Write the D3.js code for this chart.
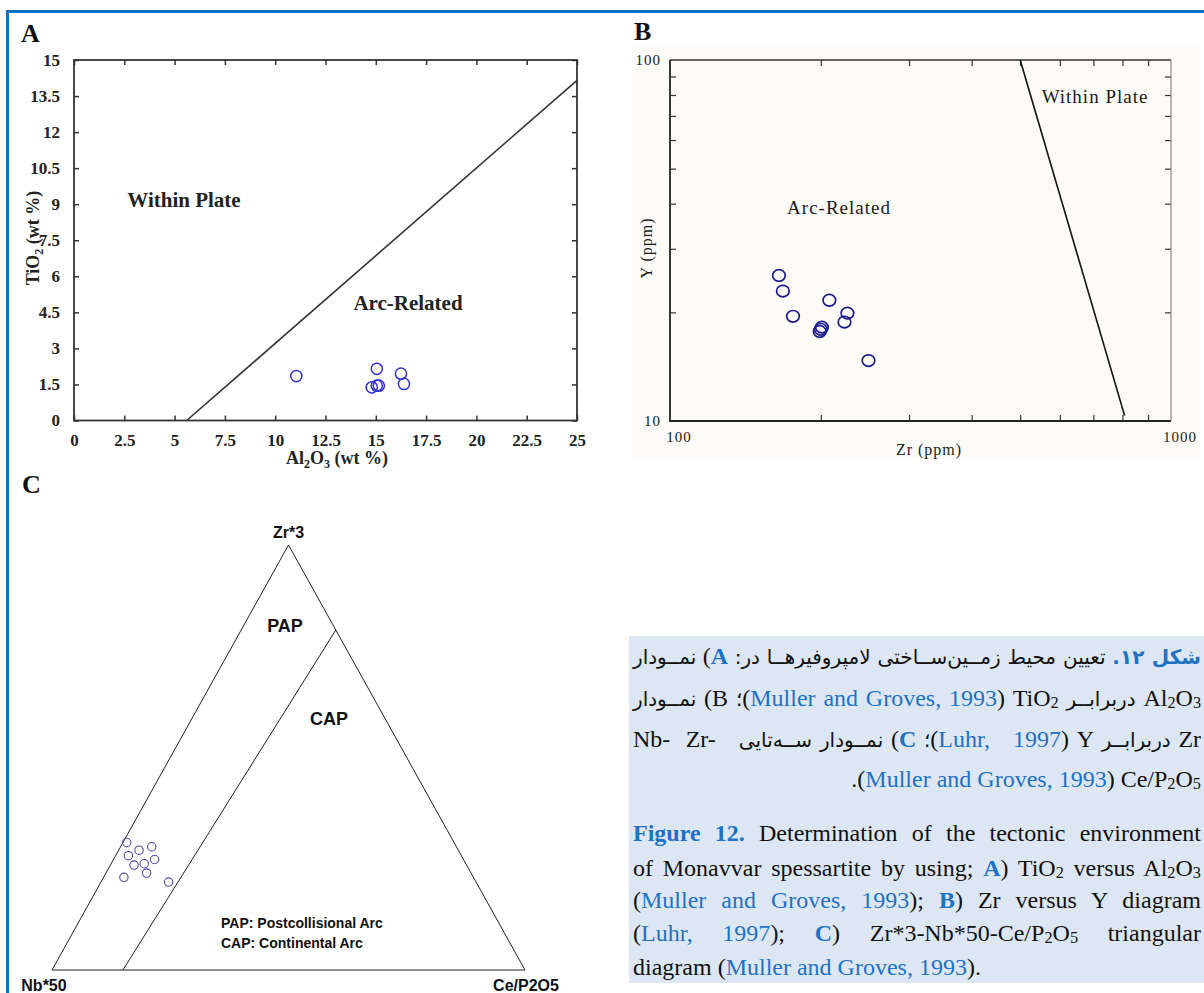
<!DOCTYPE html>
<html>
<head>
<meta charset="utf-8">
<script src="https://cdn.jsdelivr.net/npm/d3@7"></script>
<style>
body{margin:0;background:#fff;}
#wrap{position:relative;width:1204px;height:993px;overflow:hidden;}
svg{position:absolute;left:0;top:0;}
#cap{position:absolute;left:629px;top:636px;width:575px;height:347px;background:#dde7f3;}
.ln{position:absolute;left:4px;width:568px;white-space:nowrap;font-family:"Liberation Serif","DejaVu Sans",serif;font-size:24px;color:#111;text-align:justify;line-height:24px;}
.fa{font-family:"DejaVu Sans",sans-serif;font-size:20px;}
.bl{color:#1f72c2;}
.b{font-weight:bold;}
.sb{font-size:0.68em;vertical-align:-0.1em;}
</style>
</head>
<body>
<div id="wrap"></div>
<script>
// ---- panel A : TiO2 vs Al2O3 (wt %) ----
const aAl2O3 = [11.05, 15.05, 16.25, 16.4, 14.8, 15.05, 15.15];
const aTiO2  = [1.85, 2.15, 1.95, 1.52, 1.38, 1.45, 1.45];
const aLine  = [[5.6, 0], [25, 14.15]];
const aXTicks = [0, 2.5, 5, 7.5, 10, 12.5, 15, 17.5, 20, 22.5, 25];
const aYTicks = [0, 1.5, 3, 4.5, 6, 7.5, 9, 10.5, 12, 13.5, 15];

// ---- panel B : Zr vs Y (ppm), log-log ----
const bZr = [165, 168, 208, 176, 226, 223, 201, 199, 200, 249];
const bY  = [25.3, 22.9, 21.6, 19.5, 19.9, 18.8, 18.2, 17.7, 17.95, 14.7];
const bLine = [[500, 100], [808, 10.35]];
const bXMinor = [200, 300, 400, 500, 600, 700, 800, 900];
const bYMinor = [20, 30, 40, 50, 60, 70, 80, 90];

// ---- panel C : Zr*3 - Nb*50 - Ce/P2O5 ternary (%) ----
const cZr = [30, 28.2, 29, 26.9, 26, 24.7, 25, 22.8, 21.8, 20.7];
const cNb = [69.2, 67.5, 64.4, 70.4, 65.3, 70.3, 68, 68.6, 73.9, 65];
const cCe = [0.8, 4.3, 6.6, 2.7, 8.7, 5, 7, 8.6, 4.3, 14.3];
const cDivider = [[80, 0, 20], [0, 85, 15]];   // [Zr, Nb, Ce]

var wrap = d3.select("#wrap");
var svg = wrap.append("svg").attr("width", 1204).attr("height", 993);

// blue page frame
svg.append("line").attr("x1", 6).attr("x2", 1204).attr("y1", 11.5).attr("y2", 11.5)
  .attr("stroke", "#0b71c5").attr("stroke-width", 3);
svg.append("line").attr("x1", 7.5).attr("x2", 7.5).attr("y1", 10).attr("y2", 993)
  .attr("stroke", "#0b71c5").attr("stroke-width", 3);

// panel letters
[["A", 21, 42], ["B", 634, 40], ["C", 22, 493]].forEach(function(d) {
  svg.append("text").attr("x", d[1]).attr("y", d[2]).text(d[0])
    .attr("font-family", "Liberation Serif").attr("font-weight", "bold")
    .attr("font-size", 26).attr("fill", "#111");
});

// ================= PANEL A =================
var gA = svg.append("g");
var xA = d3.scaleLinear().domain([0, 25]).range([74, 577]);
var yA = d3.scaleLinear().domain([0, 15]).range([420.5, 60]);

function tickAxis(g, axis, tr) {
  var a = g.append("g").attr("transform", tr).call(axis);
  a.select(".domain").remove();
  a.selectAll(".tick line").attr("stroke", "#333").attr("stroke-width", 1.5);
  return a;
}
var serifA = function(sel) {
  sel.attr("font-family", "Liberation Serif").attr("font-weight", "bold")
    .attr("font-size", 17).attr("fill", "#222");
};
var numFmt = d => String(d);
var axA = tickAxis(gA, d3.axisBottom(xA).tickValues(aXTicks).tickFormat(numFmt).tickSize(-5).tickPadding(13).tickSizeOuter(0), "translate(0,420.5)");
axA.selectAll("text").call(serifA);
tickAxis(gA, d3.axisTop(xA).tickValues(aXTicks).tickSize(-5).tickFormat("").tickSizeOuter(0), "translate(0,60)");
var ayA = tickAxis(gA, d3.axisLeft(yA).tickValues(aYTicks).tickFormat(numFmt).tickSize(-5).tickPadding(14).tickSizeOuter(0), "translate(74,0)");
ayA.selectAll("text").call(serifA);
tickAxis(gA, d3.axisRight(yA).tickValues(aYTicks).tickSize(-5).tickFormat("").tickSizeOuter(0), "translate(577,0)");

gA.append("rect").attr("x", 74).attr("y", 60).attr("width", 503).attr("height", 360.5)
  .attr("fill", "none").attr("stroke", "#333").attr("stroke-width", 1.8);

gA.append("line")
  .attr("x1", xA(aLine[0][0])).attr("y1", yA(aLine[0][1]))
  .attr("x2", xA(aLine[1][0])).attr("y2", yA(aLine[1][1]))
  .attr("stroke", "#333").attr("stroke-width", 1.6);

gA.selectAll(".ptA").data(aAl2O3).enter().append("circle")
  .attr("cx", (d, i) => xA(d)).attr("cy", (d, i) => yA(aTiO2[i]))
  .attr("r", 5.6).attr("fill", "none").attr("stroke", "#3434d6").attr("stroke-width", 1.5);

gA.append("text").attr("x", 184).attr("y", 207).attr("text-anchor", "middle").text("Within Plate")
  .attr("font-family", "Liberation Serif").attr("font-weight", "bold").attr("font-size", 21).attr("fill", "#222");
gA.append("text").attr("x", 408).attr("y", 310).attr("text-anchor", "middle").text("Arc-Related")
  .attr("font-family", "Liberation Serif").attr("font-weight", "bold").attr("font-size", 21).attr("fill", "#222");

var xtA = gA.append("text").attr("x", 337).attr("y", 464).attr("text-anchor", "middle")
  .attr("font-family", "Liberation Serif").attr("font-weight", "bold").attr("font-size", 18).attr("fill", "#222");
xtA.append("tspan").text("Al");
xtA.append("tspan").text("2").attr("font-size", 12).attr("dy", 4);
xtA.append("tspan").text("O").attr("dy", -4);
xtA.append("tspan").text("3").attr("font-size", 12).attr("dy", 4);
xtA.append("tspan").text("  (wt %)").attr("dy", -4);

var ytA = gA.append("text").attr("transform", "translate(39,238) rotate(-90)").attr("text-anchor", "middle")
  .attr("font-family", "Liberation Serif").attr("font-weight", "bold").attr("font-size", 18).attr("fill", "#222");
ytA.append("tspan").text("TiO");
ytA.append("tspan").text("2").attr("font-size", 12).attr("dy", 4);
ytA.append("tspan").text(" (wt %)").attr("dy", -4);

// ================= PANEL B =================
var gB = svg.append("g");
gB.append("rect").attr("x", 632).attr("y", 47).attr("width", 568).attr("height", 412).attr("fill", "#fdfbf8");
var xB = d3.scaleLog().domain([100, 1000]).range([670, 1171]);
var yB = d3.scaleLog().domain([10, 100]).range([421, 60]);

tickAxis(gB, d3.axisBottom(xB).tickValues(bXMinor).tickSize(-6).tickFormat("").tickSizeOuter(0), "translate(0,421)");
tickAxis(gB, d3.axisTop(xB).tickValues(bXMinor).tickSize(-6).tickFormat("").tickSizeOuter(0), "translate(0,60)");
tickAxis(gB, d3.axisLeft(yB).tickValues(bYMinor).tickSize(-6).tickFormat("").tickSizeOuter(0), "translate(670,0)");
tickAxis(gB, d3.axisRight(yB).tickValues(bYMinor).tickSize(-6).tickFormat("").tickSizeOuter(0), "translate(1171,0)");
gB.selectAll(".tick line").attr("stroke-width", 1.2);

gB.append("path")
  .attr("d", `M${xB(100)},${yB(100)}H${xB(1000)}`).attr("stroke", "#333").attr("stroke-width", 1.5);
gB.append("path")
  .attr("d", `M${xB(100)},${yB(100)}V${yB(10)}H${xB(1000)}`).attr("fill", "none").attr("stroke", "#222").attr("stroke-width", 1.8);
gB.append("path")
  .attr("d", `M${xB(1000)},${yB(100)}V${yB(10)}`).attr("stroke", "#888").attr("stroke-width", 1.2);

var pixB = function(sel, size) {
  sel.attr("font-family", "Liberation Serif").attr("font-size", size).attr("fill", "#1a1a1a")
    .attr("letter-spacing", 1);
};
[100, 10].forEach(function(v) {
  gB.append("text").attr("x", 661).attr("y", yB(v) + 5).attr("text-anchor", "end").text(v).call(pixB, 15);
});
[100, 1000].forEach(function(v) {
  gB.append("text").attr("x", xB(v) + 9).attr("y", 442).attr("text-anchor", "middle").text(v).call(pixB, 15);
});
gB.append("text").attr("x", 929).attr("y", 455).attr("text-anchor", "middle").text("Zr (ppm)").call(pixB, 16);
gB.append("text").attr("transform", "translate(652,248) rotate(-90)").attr("text-anchor", "middle").text("Y (ppm)").call(pixB, 16);
gB.append("text").attr("x", 1095).attr("y", 103).attr("text-anchor", "middle").text("Within Plate").call(pixB, 19);
gB.append("text").attr("x", 839).attr("y", 214).attr("text-anchor", "middle").text("Arc-Related").call(pixB, 19);

gB.append("line")
  .attr("x1", xB(bLine[0][0])).attr("y1", yB(bLine[0][1]))
  .attr("x2", xB(bLine[1][0])).attr("y2", yB(bLine[1][1]))
  .attr("stroke", "#111").attr("stroke-width", 1.6);

gB.selectAll(".ptB").data(bZr).enter().append("ellipse")
  .attr("cx", d => xB(d)).attr("cy", (d, i) => yB(bY[i]))
  .attr("rx", 6.3).attr("ry", 5.8).attr("fill", "none").attr("stroke", "#1b1b8c").attr("stroke-width", 1.7);

// ================= PANEL C =================
var gC = svg.append("g");
var tx = d3.scaleLinear().domain([0, 1]).range([52, 525]);
var ty = d3.scaleLinear().domain([0, 1]).range([970, 545]);
function tern(zr, nb, ce) {
  var s = zr + nb + ce;
  zr /= s; ce /= s;
  return [tx(ce + zr / 2), ty(zr)];
}
var tri = [tern(100, 0, 0), tern(0, 100, 0), tern(0, 0, 100)];
gC.append("path").attr("d", d3.line()(tri) + "Z").attr("fill", "none").attr("stroke", "#222").attr("stroke-width", 1);
gC.append("path").attr("d", d3.line()(cDivider.map(d => tern(d[0], d[1], d[2]))))
  .attr("fill", "none").attr("stroke", "#222").attr("stroke-width", 1);

var sansC = function(sel, size) {
  sel.attr("font-family", "Liberation Sans").attr("font-weight", "bold").attr("font-size", size).attr("fill", "#111");
};
gC.append("text").attr("x", tri[0][0]).attr("y", 538).attr("text-anchor", "middle").text("Zr*3").call(sansC, 16);
gC.append("text").attr("x", 44).attr("y", 991).attr("text-anchor", "middle").text("Nb*50").call(sansC, 16);
gC.append("text").attr("x", 526).attr("y", 991).attr("text-anchor", "middle").text("Ce/P2O5").call(sansC, 16);
gC.append("text").attr("x", 285).attr("y", 632).attr("text-anchor", "middle").text("PAP").call(sansC, 18);
gC.append("text").attr("x", 329).attr("y", 725).attr("text-anchor", "middle").text("CAP").call(sansC, 18);
gC.append("text").attr("x", 221).attr("y", 928).text("PAP: Postcollisional Arc").call(sansC, 14);
gC.append("text").attr("x", 221).attr("y", 948).text("CAP: Continental Arc").call(sansC, 14);

gC.selectAll(".ptC").data(cZr).enter().append("circle")
  .attr("cx", (d, i) => tern(d, cNb[i], cCe[i])[0])
  .attr("cy", (d, i) => tern(d, cNb[i], cCe[i])[1])
  .attr("r", 4.2).attr("fill", "none").attr("stroke", "#4c4ca6").attr("stroke-width", 1.1);

// ================= CAPTION =================
const capLines = [
  {dir: "rtl", top: 8, last: "justify",
   html: '<span class="fa"><span class="bl b">شکل ۱۲.</span> تعیین محیط زمــین‌ســاختی لامپروفیرهــا در:</span> <span class="bl b">A</span>) <span class="fa">نمــودار</span>'},
  {dir: "rtl", top: 50, last: "justify",
   html: 'Al<span class="sb">2</span>O<span class="sb">3</span> <span class="fa">دربرابــر</span> TiO<span class="sb">2</span> <bdi dir="ltr">(<span class="bl">Muller and Groves, 1993</span>)</bdi><span class="fa">؛</span> B) <span class="fa">نمــودار</span>'},
  {dir: "rtl", top: 91, last: "justify",
   html: 'Zr <span class="fa">دربرابــر</span> Y <bdi dir="ltr">(<span class="bl">Luhr,&nbsp;&nbsp; 1997</span>)</bdi><span class="fa">؛</span> <span class="bl b">C</span>) <span class="fa">نمــودار ســه‌تایی</span>&nbsp;&nbsp; <bdi dir="ltr">Zr-</bdi>&nbsp; <bdi dir="ltr">Nb-</bdi>'},
  {dir: "rtl", top: 131, last: "start",
   html: 'Ce/P<span class="sb">2</span>O<span class="sb">5</span> <bdi dir="ltr">(<span class="bl">Muller and Groves, 1993</span>)</bdi>.'},
  {dir: "ltr", top: 185, last: "justify",
   html: '<span class="bl b">Figure 12.</span> Determination of the tectonic environment'},
  {dir: "ltr", top: 220, last: "justify",
   html: 'of Monavvar spessartite by using; <span class="bl b">A</span>) TiO<span class="sb">2</span> versus Al<span class="sb">2</span>O<span class="sb">3</span>'},
  {dir: "ltr", top: 252, last: "justify",
   html: '(<span class="bl">Muller and Groves, 1993</span>); <span class="bl b">B</span>) Zr versus Y diagram'},
  {dir: "ltr", top: 285, last: "justify",
   html: '(<span class="bl">Luhr, 1997</span>); <span class="bl b">C</span>) Zr*3-Nb*50-Ce/P<span class="sb">2</span>O<span class="sb">5</span> triangular'},
  {dir: "ltr", top: 319, last: "start",
   html: 'diagram (<span class="bl">Muller and Groves, 1993</span>).'}
];
var cap = wrap.append("div").attr("id", "cap");
cap.selectAll(".ln").data(capLines).join("div")
  .attr("class", "ln")
  .attr("dir", d => d.dir)
  .style("top", d => d.top + "px")
  .style("text-align-last", d => d.last)
  .html(d => d.html);
</script>
</body>
</html>
